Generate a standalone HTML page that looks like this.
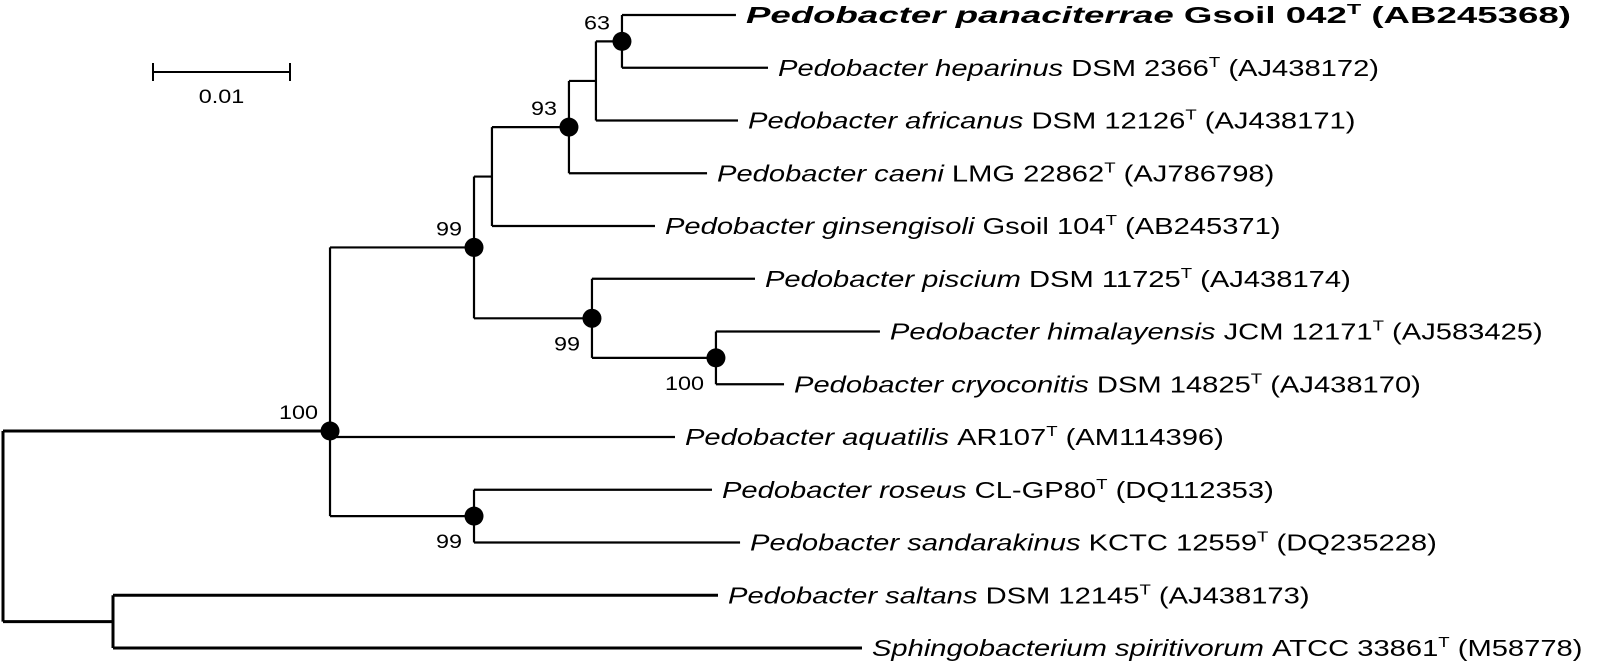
<!DOCTYPE html>
<html><head><meta charset="utf-8"><style>
html,body{margin:0;padding:0;background:#fff;}
svg{display:block;font-family:"Liberation Sans",Arial,sans-serif;}
</style></head><body>
<svg id="tree" width="1598" height="662" viewBox="0 0 1598 662" xmlns="http://www.w3.org/2000/svg"></svg>
<script>
// ---- data ----
const leafGenus = ["Pedobacter panaciterrae","Pedobacter heparinus","Pedobacter africanus","Pedobacter caeni","Pedobacter ginsengisoli","Pedobacter piscium","Pedobacter himalayensis","Pedobacter cryoconitis","Pedobacter aquatilis","Pedobacter roseus","Pedobacter sandarakinus","Pedobacter saltans","Sphingobacterium spiritivorum"];
const leafStrain = ["Gsoil 042","DSM 2366","DSM 12126","LMG 22862","Gsoil 104","DSM 11725","JCM 12171","DSM 14825"," AR107","CL-GP80","KCTC 12559","DSM 12145","ATCC 33861"];
const leafAccession = ["(AB245368)","(AJ438172)","(AJ438171)","(AJ786798)","(AB245371)","(AJ438174)","(AJ583425)","(AJ438170)","(AM114396)","(DQ112353)","(DQ235228)","(AJ438173)","(M58778)"];
const leafDepth = [0.05350,0.05584,0.05365,0.05139,0.04759,0.05489,0.06401,0.05701,0.04905,0.05175,0.05380,0.05219,0.06270];
// internal nodes: name, depth, children (leaf index as number, node as string), bootstrap
const nodeNames = ["F","E","D","C","H","G","B","I","A","J","root"];
const nodeDepth = [0.04518,0.04328,0.04131,0.03569,0.05204,0.04299,0.03438,0.03438,0.02387,0.00803,0.0];
const nodeChildren = [[0,1],["F",2],["E",3],["D",4],[6,7],[5,"H"],["C","G"],[9,10],["B",8,"I"],[11,12],["A","J"]];
const nodeSupport = ["63","","93","","100","99","99","99","100","",""];
const supportBelow = [false,false,false,false,true,true,false,true,false,false,false];
const scaleValue = 0.01;
const scaleLabel = "0.01";

// ---- axes ----
const X0 = 3, PX_PER_UNIT = 13700;
const xScale = d => X0 + d * PX_PER_UNIT;
const yLeaf = i => 15 + 52.75 * i;

const svg = document.getElementById('tree');
const NS = "http://www.w3.org/2000/svg";
function mk(tag, attrs){const e=document.createElementNS(NS,tag);for(const k in attrs)e.setAttribute(k,attrs[k]);svg.appendChild(e);return e;}

const pos = {};
function posOf(c){ return typeof c === "number" ? {x:xScale(leafDepth[c]), y:yLeaf(c)} : pos[c]; }
nodeNames.forEach((n,i)=>{
  const ch = nodeChildren[i].map(posOf);
  let y;
  if (ch.length % 2 === 1) y = ch[(ch.length-1)/2].y;
  else y = ch.reduce((s,p)=>s+p.y,0)/ch.length;
  if (n === "A") y = ch[1].y - 6;
  pos[n] = {x:xScale(nodeDepth[i]), y:y};
});

nodeNames.forEach((n,i)=>{
  const p = pos[n];
  const ch = nodeChildren[i].map(posOf);
  const ys = ch.map(c=>c.y);
  const sw = (n==="root"||n==="J") ? 3 : 2.2;
  const v = mk('line',{x1:p.x,y1:Math.min(...ys),x2:p.x,y2:Math.max(...ys),stroke:'#000','stroke-width':sw});
  
  
  ch.forEach((c,j)=>{
    const h = mk('line',{x1:p.x,y1:c.y,x2:c.x,y2:c.y,stroke:'#000','stroke-width':sw});
    
    
  });
});

nodeNames.forEach((n,i)=>{
  if (!nodeSupport[i]) return;
  const p = pos[n];
  const dot = mk('circle',{cx:p.x,cy:p.y,r:9.5,fill:'#000'});
  
  
  const ty = supportBelow[i] ? p.y + 32 : p.y - 12;
  const t = mk('text',{transform:`translate(${p.x-12} ${ty}) scale(1.2 1)`,'font-size':19.5,'text-anchor':'end',fill:'#000'});
  t.textContent = nodeSupport[i];
  
  
});

leafGenus.forEach((g,i)=>{
  const x = xScale(leafDepth[i]) + 10, y = yLeaf(i) + 8;
  const bold = i === 0;
  const sx = bold ? 1.56 : 1.24;
  const t = mk('text',{transform:`translate(${x} ${y}) scale(${sx} 1)`,'font-size':23.5,fill:'#000','font-weight':bold?'bold':'normal'});
  
  
  const a = document.createElementNS(NS,'tspan'); a.setAttribute('font-style','italic'); a.textContent = g + ' ';
  const b = document.createElementNS(NS,'tspan'); b.textContent = leafStrain[i];
  const c = document.createElementNS(NS,'tspan'); c.setAttribute('font-size','15'); c.setAttribute('dy','-9'); c.textContent = 'T';
  const d = document.createElementNS(NS,'tspan'); d.setAttribute('dy','9'); d.textContent = ' ' + leafAccession[i];
  t.appendChild(a); t.appendChild(b); t.appendChild(c); t.appendChild(d);
});

const sbx = 153, sby = 72, sbw = scaleValue * PX_PER_UNIT;
const sb = mk('line',{x1:sbx,y1:sby,x2:sbx+sbw,y2:sby,stroke:'#000','stroke-width':2});


[sbx, sbx+sbw].forEach((x,k)=>{
  const tk = mk('line',{x1:x,y1:sby-9,x2:x,y2:sby+9,stroke:'#000','stroke-width':2});
  
  
});
const sl = mk('text',{transform:`translate(${sbx+sbw/2} ${sby+31}) scale(1.2 1)`,'font-size':19.5,'text-anchor':'middle',fill:'#000'});
sl.textContent = scaleLabel;


</script>
</body></html>
